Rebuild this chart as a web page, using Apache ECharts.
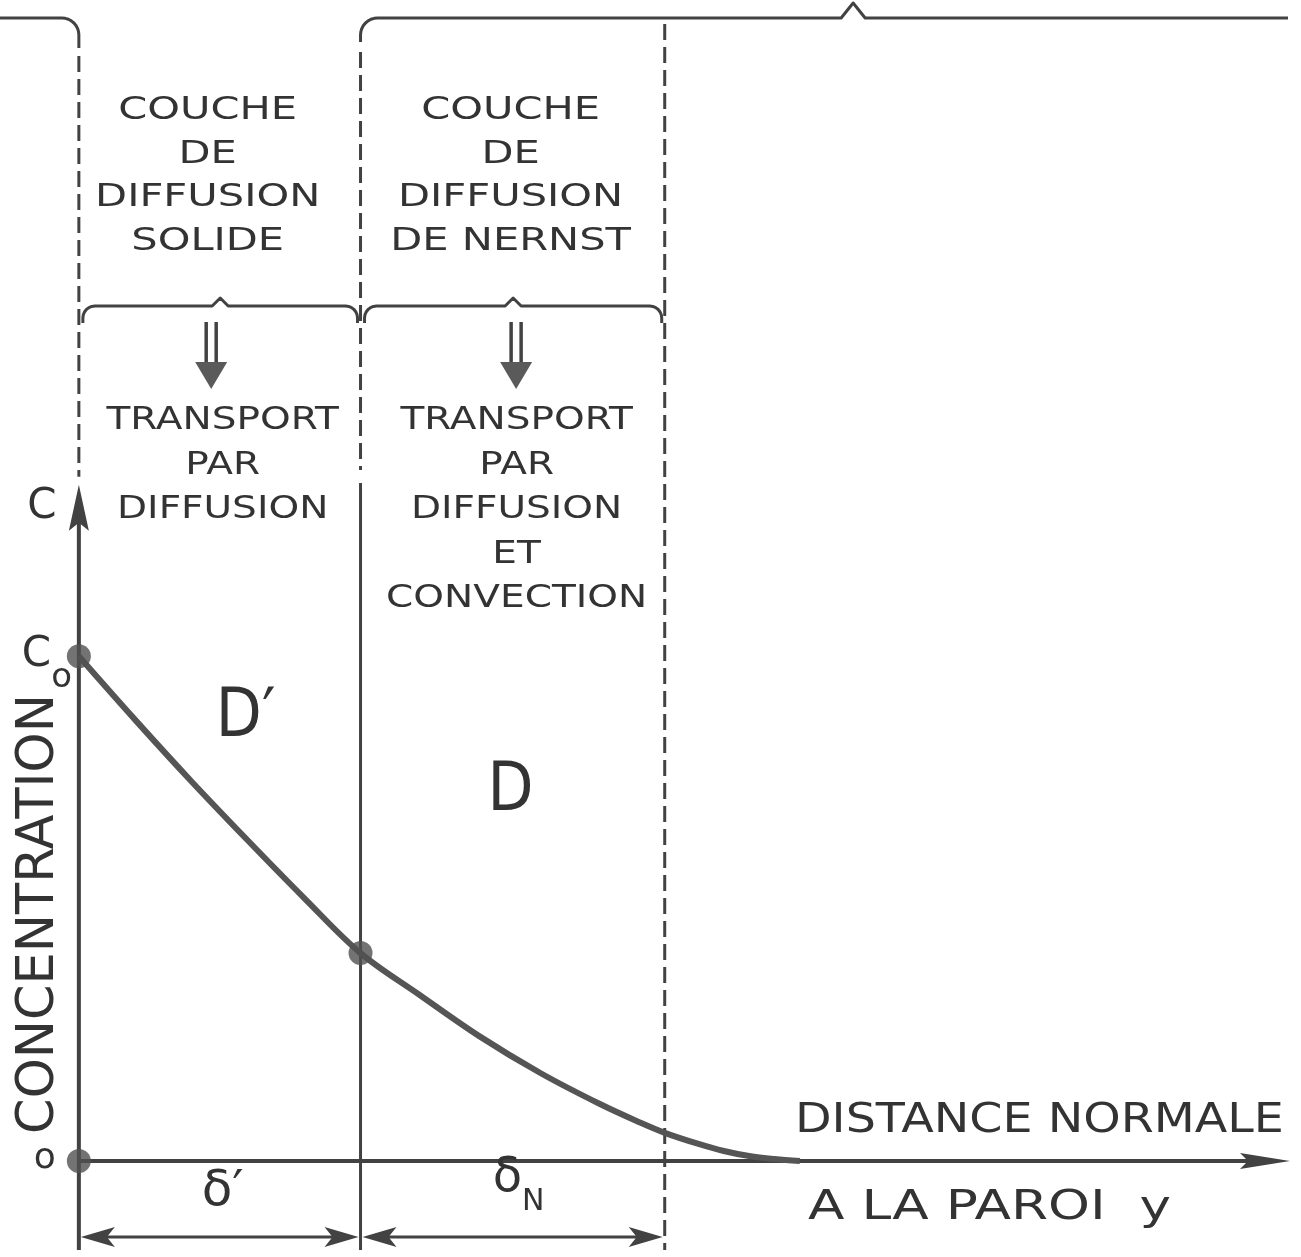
<!DOCTYPE html>
<html>
<head>
<meta charset="utf-8">
<script src="https://cdn.jsdelivr.net/npm/echarts@6/dist/echarts.min.js"></script>
<style>
html,body{margin:0;padding:0;background:#fff;}
#c{width:1301px;height:1257px;}
</style>
</head>
<body>
<div id="c"></div>
<script>
// ---------------- data ----------------
// x in units of the solid-diffusion-layer thickness δ′, y in units of C0
const boundaryX = [0, 1.0, 2.08];          // wall, end of δ′ layer, end of Nernst layer δN
const profileX = [0, 0.2, 0.4, 0.6, 0.8, 1.0, 1.21, 1.42, 1.64, 1.85, 1.99, 2.08, 2.2, 2.29, 2.38, 2.47, 2.56];
const profileY = [1.0, 0.874, 0.752, 0.635, 0.521, 0.412, 0.329, 0.248, 0.174, 0.113, 0.077, 0.056, 0.034, 0.02, 0.01, 0.004, 0];
const pointX = [0, 1.0, 0];
const pointY = [1.0, 0.412, 0];
const axisEnd = [4.3, 1.34];               // x-axis arrow tip, y-axis arrow tip
const layerTitles = [
  ['COUCHE', 'DE', 'DIFFUSION', 'SOLIDE'],
  ['COUCHE', 'DE', 'DIFFUSION', 'DE NERNST']
];
const transportLabels = [
  ['TRANSPORT', 'PAR', 'DIFFUSION'],
  ['TRANSPORT', 'PAR', 'DIFFUSION', 'ET', 'CONVECTION']
];
const diffusivityLabels = ['D′', 'D'];
const yAxisLabel = 'C';
const yAxisTitle = 'CONCENTRATION';
const c0Label = ['C', 'o'];
const originLabel = 'o';
const xAxisTitle = ['DISTANCE NORMALE', 'A LA PAROI  y'];
const thicknessLabels = [['δ′', ''], ['δ', 'N']];

// ---------------- drawing ----------------
const INK = '#424242';
const TXT = '#333333';
const FONT = '"DejaVu Sans", sans-serif';
const titleNudge = [-12, -2];
const transportNudge = [3, 4];
const arrowNudge = [-9, 3];

function renderDiagram(params, api) {
  const P = (x, y) => api.coord([x, y]);
  const [x0, oy] = P(boundaryX[0], 0);
  const xb = boundaryX.map(b => P(b, 0)[0]);
  const xEnd = P(axisEnd[0], 0)[0];
  const yTip = P(0, axisEnd[1])[1];
  const el = [];
  const stroke = (pts, w, dash) => el.push({
    type: 'polyline', shape: { points: pts },
    style: { stroke: INK, lineWidth: w || 3, fill: null, lineDash: dash || null, lineCap: 'butt', lineJoin: 'round' }
  });
  const poly = (pts, fill) => el.push({ type: 'polygon', shape: { points: pts }, style: { fill: fill || INK, stroke: null } });
  const arc = (cx, cy, r, a0, a1, n) => {
    n = n || 8; const out = [];
    for (let i = 0; i <= n; i++) { const a = a0 + (a1 - a0) * i / n; out.push([cx + r * Math.cos(a), cy + r * Math.sin(a)]); }
    return out;
  };
  const text = (str, x, y, size, opt) => {
    opt = opt || {};
    el.push({
      type: 'text', x: x, y: y, rotation: opt.rot || 0, scaleX: opt.sx || 1,
      style: { text: str, font: size + 'px ' + FONT, fill: TXT, align: opt.align || 'center',
               verticalAlign: opt.va || 'middle', rich: opt.rich }
    });
  };
  const DASH = [16, 7];
  const TOP = 18, R = 17;
  const x1 = xb[1], x2 = xb[2];

  // top-left corner of the wall line
  stroke([[0, TOP]].concat(arc(x0 - R, TOP + R, R, -Math.PI / 2, 0)).concat([[x0, 48]]), 3);
  stroke([[x0, 56], [x0, yTip - 8]], 3, DASH);
  // concentration axis (with arrow) and wall tick below the origin
  stroke([[x0, 1250], [x0, yTip + 30]], 4);
  poly([[x0, yTip], [x0 + 10, yTip + 46], [x0, yTip + 38], [x0 - 10, yTip + 46]]);
  // distance axis with arrow
  stroke([[x0, oy], [xEnd - 30, oy]], 4);
  poly([[xEnd, oy], [xEnd - 50, oy - 8], [xEnd - 42, oy], [xEnd - 50, oy + 8]]);

  // interface δ′ boundary + outer brace along the top
  const tipX = x1 + 0.53 * (xEnd - x1);
  stroke([[x1, 42]].concat(arc(x1 + R, TOP + R, R, Math.PI, 1.5 * Math.PI))
    .concat([[tipX - 12, TOP], [tipX, TOP - 15], [tipX + 12, TOP], [xEnd - 2, TOP]]), 3);
  stroke([[x1, 52], [x1, 470]], 3, DASH);
  stroke([[x1, 483], [x1, 1250]], 3);
  // outer edge of the Nernst layer
  stroke([[x2, 24], [x2, 1250]], 3, DASH);

  // braces over each layer, double arrows
  const BY = 306;
  for (let i = 0; i < 2; i++) {
    const a = xb[i] + 4, b = xb[i + 1] - 3, m = (a + b) / 2;
    stroke([[a, BY + 17]].concat(arc(a + 12, BY + 12, 12, Math.PI, 1.5 * Math.PI, 6))
      .concat([[m - 8, BY], [m, BY - 8], [m + 8, BY]])
      .concat(arc(b - 12, BY + 12, 12, 1.5 * Math.PI, 2 * Math.PI, 6))
      .concat([[b, BY + 17]]), 3);
    const cx = m + arrowNudge[i];
    stroke([[cx - 5, 322], [cx - 5, 366]], 3.5);
    stroke([[cx + 5, 322], [cx + 5, 366]], 3.5);
    poly([[cx - 16, 362], [cx + 16, 362], [cx, 389]], '#5a5a5a');
  }

  // thickness dimension arrows
  const DY = 1237;
  for (let i = 0; i < 2; i++) {
    const a = xb[i], b = xb[i + 1];
    stroke([[a + 20, DY], [b - 20, DY]], 3);
    poly([[a + 2, DY], [a + 36, DY - 10], [a + 28, DY], [a + 36, DY + 10]]);
    poly([[b - 2, DY], [b - 36, DY - 10], [b - 28, DY], [b - 36, DY + 10]]);
  }

  // layer titles
  layerTitles.forEach((lines, i) => {
    const cx = (xb[i] + xb[i + 1]) / 2 + titleNudge[i];
    lines.forEach((s, k) => text(s, cx, 111 + 43.5 * k, 32, { sx: 1.3 }));
  });
  transportLabels.forEach((lines, i) => {
    const cx = (xb[i] + xb[i + 1]) / 2 + transportNudge[i];
    lines.forEach((s, k) => text(s, cx, 421 + 44.5 * k, 32, { sx: 1.22 }));
  });

  // diffusivities
  text(diffusivityLabels[0], (xb[0] + xb[1]) / 2 + 26, 718, 68, { sx: 0.88 });
  text(diffusivityLabels[1], (xb[1] + xb[2]) / 2 - 2, 792, 68, { sx: 0.88 });

  // axis labels
  text(yAxisLabel, x0 - 37, yTip + 22, 42);
  const c0y = P(0, pointY[0])[1];
  text('{c|' + c0Label[0] + '}{s|' + c0Label[1] + '}', x0 - 57, c0y - 22, 40, {
    align: 'left', va: 'top',
    rich: { c: { font: '42px ' + FONT, fill: TXT, lineHeight: 42, verticalAlign: 'top' },
            s: { font: '34px ' + FONT, fill: TXT, lineHeight: 88, verticalAlign: 'middle' } }
  });
  text(yAxisTitle, x0 - 39, 914, 51, { rot: Math.PI / 2 });
  text(originLabel, x0 - 34, oy - 2, 36);

  // thickness labels
  text(thicknessLabels[0][0], (xb[0] + xb[1]) / 2 + 3, 1192, 50);
  text('{d|' + thicknessLabels[1][0] + '}{n|' + thicknessLabels[1][1] + '}', (xb[1] + xb[2]) / 2 + 6, 1155, 48, {
    va: 'top',
    rich: { d: { font: '48px ' + FONT, fill: TXT, lineHeight: 50, verticalAlign: 'top' },
            n: { font: '30px ' + FONT, fill: TXT, lineHeight: 94, verticalAlign: 'middle' } }
  });

  // distance axis title
  text(xAxisTitle[0], 795, 1121, 41, { align: 'left', sx: 1.16 });
  text(xAxisTitle[1], 808, 1208, 41, { align: 'left', sx: 1.3 });

  return { type: 'group', children: el };
}

const chart = echarts.init(document.getElementById('c'), null, { renderer: 'canvas', width: 1301, height: 1257 });
chart.setOption({
  animation: false,
  backgroundColor: '#ffffff',
  grid: { left: 0, right: 11, top: 0, bottom: 0 },
  xAxis: { type: 'value', min: -0.28, max: 4.3, show: false },
  yAxis: { type: 'value', min: -0.19, max: 2.3, show: false },
  series: [
    {
      type: 'custom', silent: true, z: 1,
      data: [[0, 0]],
      renderItem: renderDiagram
    },
    {
      type: 'line', z: 3, silent: true,
      data: profileX.map((x, i) => [x, profileY[i]]),
      smooth: 0.35, symbol: 'none',
      lineStyle: { width: 6, color: '#555555' }
    },
    {
      type: 'scatter', z: 4, silent: true,
      data: pointX.map((x, i) => [x, pointY[i]]),
      symbolSize: 24,
      itemStyle: { color: '#505050' }
    }
  ]
});
</script>
</body>
</html>
